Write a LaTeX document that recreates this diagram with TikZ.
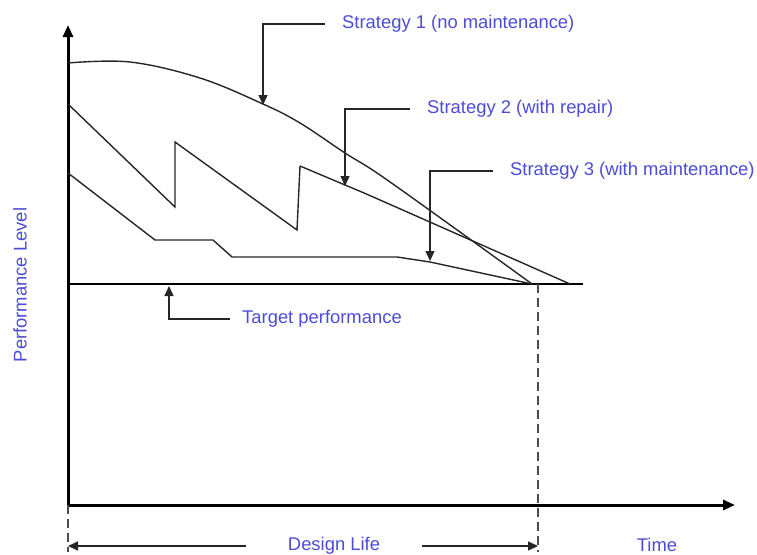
\documentclass[tikz,border=0pt]{standalone}
\usepackage{fontspec}
\setmainfont{Liberation Sans}
\usetikzlibrary{arrows.meta,positioning}

\definecolor{labelblue}{RGB}{76,76,214}

\tikzset{
  axis/.style={line width=3pt,-{Triangle[length=12pt,width=10pt]}},
  curve/.style={line width=1.4pt,black!85},
  lead/.style={line width=1.4pt,black!85,-{Triangle[length=10pt,width=9pt]}},
  lbl/.style={text=labelblue,font=\fontsize{18.4}{22}\selectfont,inner xsep=17pt,inner ysep=2pt},
  life/.style={dash pattern=on 9pt off 5pt,line width=2pt,black!70},
}

\begin{document}
\begin{tikzpicture}[x=1pt,y=-1pt]
\useasboundingbox (0,0) rectangle (757,554);

% axes and target
\coordinate (o) at (68,505);
\coordinate (ytop) at (68,25);
\coordinate (xend) at (735,505);
\coordinate (tl) at (68,284);
\coordinate (tr) at (583,284);
\coordinate (d) at (538,284);
\coordinate (db) at (538,552);
\coordinate (ob) at (68,552);
\draw[axis] (o) -- (ytop);
\draw[axis] (o) -- (xend);
\draw[line width=2.8pt] (tl) -- (tr);
\draw[life] (d) -- (db);
\draw[life] (o) -- (ob);

% strategies
\draw[curve] plot[smooth,tension=0.6] coordinates {(68,63) (130,62) (200,78) (263,104) (300,123) (345,153) (380,175) (460,232) (532,284)};
\draw[curve] (68,104) -- (175,207) -- (175,142) -- (297,230) -- (300,166)
  plot[smooth] coordinates {(300,166) (345,185) (380,200) (570,284)};
\draw[curve] (68,173) -- (155,240) -- (213,240) -- (232,257) -- (397,257) -- (430,262) -- (532,284);

% labels
\node[lbl,anchor=west] (s1) at (325,24) {Strategy 1 (no maintenance)};
\node[lbl,anchor=west] (s2) at (410,109) {Strategy 2 (with repair)};
\node[lbl,anchor=west] (s3) at (493,171) {Strategy 3 (with maintenance)};
\node[lbl,anchor=west,inner xsep=12pt] (tp) at (230,319) {Target performance};
\node[lbl,inner xsep=42pt] (dl) at (334,546) {Design Life};
\node[lbl] (time) at (657,545) {Time};
\node[lbl,rotate=90] (perf) at (20,285) {Performance Level};

\coordinate (t1) at (263,105);
\coordinate (t2) at (345,186);
\coordinate (t3) at (430,261);
\coordinate (t4) at (169,286);
\draw[lead] (s1.west) -| (t1);
\draw[lead] (s2.west) -| (t2);
\draw[lead] (s3.west) -| (t3);
\draw[lead] (tp.west) -| (t4);

\draw[lead] (dl.west) -- (dl.west -| o);
\draw[lead] (dl.east) -- (dl.east -| d);

\end{tikzpicture}
\end{document}
